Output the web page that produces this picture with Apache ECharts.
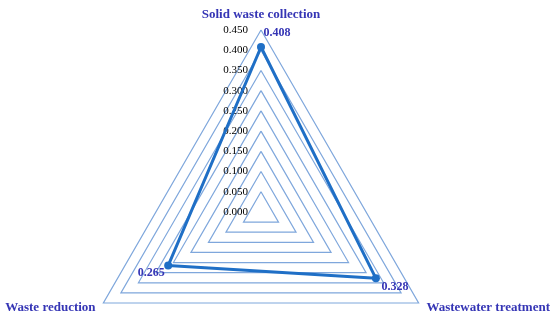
<!DOCTYPE html>
<html>
<head>
<meta charset="utf-8">
<script src="https://cdn.jsdelivr.net/npm/echarts@6/dist/echarts.min.js"></script>
<style>
  html, body { margin: 0; padding: 0; background: #fff; }
  #chart { width: 550px; height: 320px; }
</style>
</head>
<body>
<div id="chart"></div>
<script>
const indicatorNames = ['Solid waste collection', 'Waste reduction', 'Wastewater treatment']
const scores = [0.408, 0.265, 0.328]
const axisMin = 0
const axisMax = 0.45
const axisStep = 0.05

const serif = '"Liberation Serif", "DejaVu Serif", serif'
const nameColor = '#3535b5'
const lineColor = '#1f6fc6'

// one invisible item per point so each value label can sit on its own side
const labelPlaces = [
  { position: 'right', offset: [-3, -14] },
  { position: 'left', offset: [2, 7] },
  { position: 'right', offset: [0, 9] }
]
const labelItems = scores.map((v, i) => {
  const value = scores.map((s, j) => (j === i ? s : '-'))
  return {
    value: value,
    symbolSize: 1,
    itemStyle: { color: 'rgba(0,0,0,0)' },
    lineStyle: { opacity: 0 },
    label: {
      show: true,
      position: labelPlaces[i].position,
      offset: labelPlaces[i].offset,
      formatter: p => (typeof p.value === 'number' ? p.value.toFixed(3) : ''),
      color: nameColor,
      fontFamily: serif,
      fontWeight: 'bold',
      fontSize: 12
    }
  }
})

const chart = echarts.init(document.getElementById('chart'))
chart.setOption({
  animation: false,
  radar: {
    center: [261, 212],
    radius: 182,
    startAngle: 90,
    shape: 'polygon',
    splitNumber: 9,
    nameGap: 9,
    indicator: indicatorNames.map(n => ({ name: n, min: axisMin, max: axisMax })),
    axisName: {
      color: nameColor,
      fontFamily: serif,
      fontWeight: 'bold',
      fontSize: 13
    },
    axisLine: { show: false },
    axisTick: { show: false },
    axisLabel: { show: false },
    splitArea: { show: false },
    splitLine: { lineStyle: { color: '#7fa7dc', width: 1.2 } }
  },
  // tick labels along the vertical axis
  grid: { left: 252, top: 30, width: 1, height: 182 },
  xAxis: { type: 'value', show: false },
  yAxis: {
    type: 'value',
    min: axisMin,
    max: axisMax,
    interval: axisStep,
    axisLine: { show: false },
    axisTick: { show: false },
    splitLine: { show: false },
    axisLabel: {
      margin: 4,
      color: '#000',
      fontFamily: serif,
      fontSize: 11,
      formatter: v => v.toFixed(3)
    }
  },
  series: [
    {
      type: 'radar',
      symbol: 'circle',
      symbolSize: 8,
      itemStyle: { color: lineColor },
      lineStyle: { color: lineColor, width: 3 },
      data: [{ value: scores }].concat(labelItems)
    }
  ]
})
</script>
</body>
</html>
